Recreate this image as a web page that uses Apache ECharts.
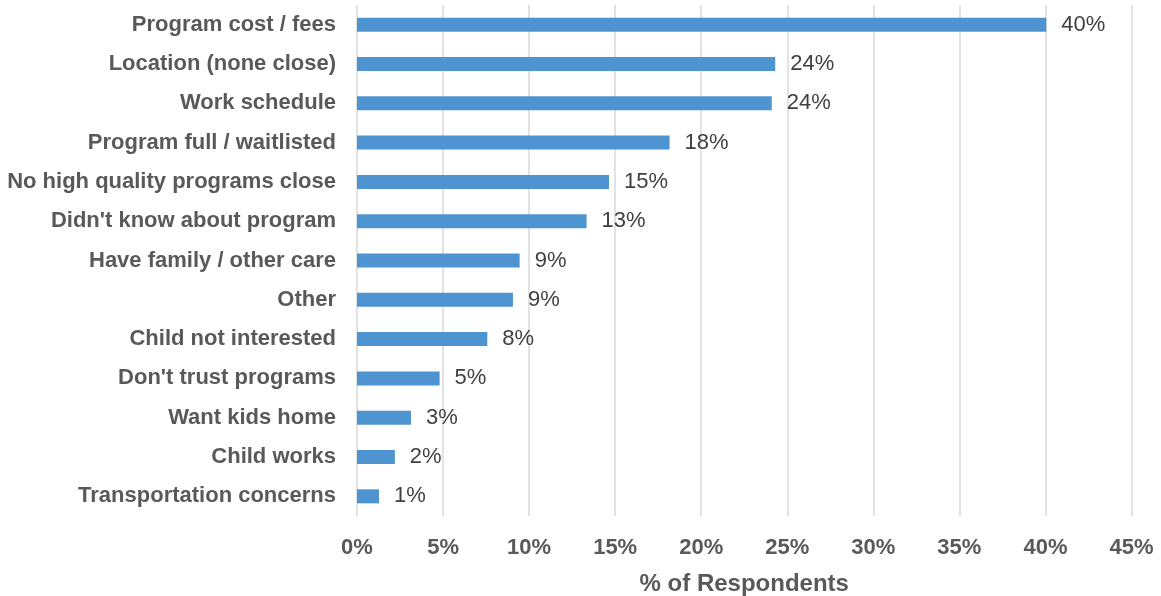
<!DOCTYPE html>
<html>
<head>
<meta charset="utf-8">
<script src="https://cdn.jsdelivr.net/npm/echarts@6/dist/echarts.min.js"></script>
<style>
html,body{margin:0;padding:0;background:#fff;}
#chart{width:1161px;height:596px;}
</style>
</head>
<body>
<div id="chart"></div>
<script>
const categories = [
  "Program cost / fees",
  "Location (none close)",
  "Work schedule",
  "Program full / waitlisted",
  "No high quality programs close",
  "Didn't know about program",
  "Have family / other care",
  "Other",
  "Child not interested",
  "Don't trust programs",
  "Want kids home",
  "Child works",
  "Transportation concerns"
];
const values = [40.05, 24.3, 24.1, 18.16, 14.64, 13.34, 9.45, 9.06, 7.57, 4.8, 3.14, 2.2, 1.28];
const xTicks = [0, 5, 10, 15, 20, 25, 30, 35, 40, 45];
const axisTitle = "% of Respondents";

const chart = echarts.init(document.getElementById('chart'), null, {renderer: 'canvas'});
const FONT = '"Liberation Sans", Arial, sans-serif';
chart.setOption({
  animation: false,
  grid: {left: 357, right: 29.5, top: 5, bottom: 80, outerBoundsMode: 'none', containLabel: false},
  xAxis: {
    type: 'value',
    min: xTicks[0],
    max: xTicks[xTicks.length - 1],
    interval: 5,
    axisLine: {show: false},
    axisTick: {show: false},
    splitLine: {show: true, lineStyle: {color: '#d9d9d9', width: 1.5}},
    axisLabel: {formatter: '{value}%', color: '#595959', fontWeight: 'bold', fontSize: 22, fontFamily: FONT, margin: 21},
    name: axisTitle,
    nameLocation: 'middle',
    nameGap: 56,
    nameTextStyle: {color: '#595959', fontWeight: 'bold', fontSize: 24, fontFamily: FONT}
  },
  yAxis: {
    type: 'category',
    data: categories,
    inverse: true,
    axisLine: {show: false},
    axisTick: {show: false},
    splitLine: {show: false},
    axisLabel: {color: '#595959', fontWeight: 'bold', fontSize: 22, fontFamily: FONT, margin: 21, padding: [3, 0, 0, 0]}
  },
  series: [{
    type: 'bar',
    data: values,
    barWidth: 14,
    itemStyle: {color: '#4e94d0'},
    label: {
      show: true,
      position: 'right',
      distance: 15,
      padding: [3, 0, 0, 0],
      formatter: p => Math.round(p.value) + '%',
      color: '#404040',
      fontSize: 22,
      fontFamily: FONT
    }
  }]
});
</script>
</body>
</html>
